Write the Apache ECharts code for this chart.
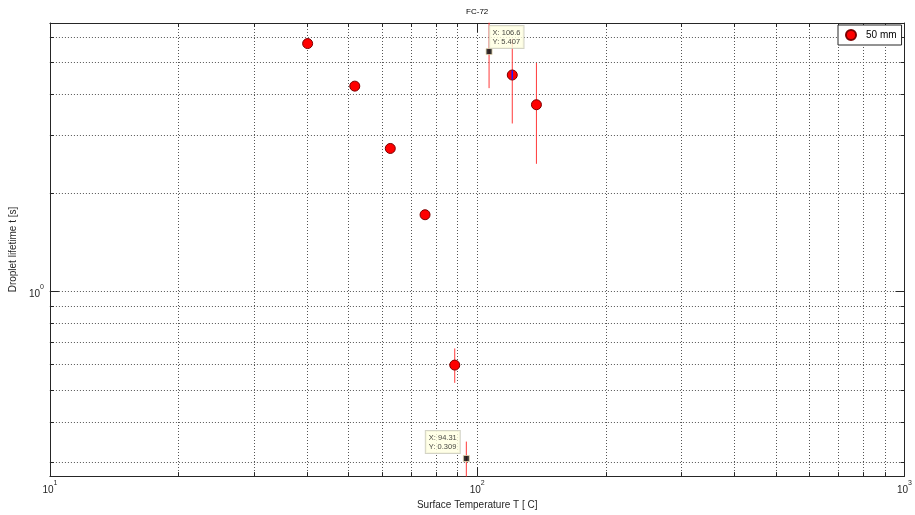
<!DOCTYPE html>
<html><head><meta charset="utf-8">
<script src="https://cdn.jsdelivr.net/npm/echarts@6/dist/echarts.min.js"></script>
<style>html,body{margin:0;padding:0;background:#fff}#c{width:915px;height:515px}</style>
</head><body><div id="c"></div>
<script>
// ---- data ----
const seriesName = '50 mm';
const titleText = 'FC-72';
const xName = 'Surface Temperature T [ C]';
const yName = 'Droplet lifetime t [s]';
const temps     = [40.1, 51.7, 62.6, 75.5, 88.6, 120.8, 137.6];
const lifetimes = [5.72, 4.24, 2.735, 1.716, 0.596, 4.585, 3.72];
const errTemps  = [88.6, 94.31, 106.6, 120.8, 137.6];
const errLow    = [0.526, 0.270, 4.18, 3.26, 2.455];
const errHigh   = [0.670, 0.348, 6.64, 5.91, 4.99];
const blueTemps = [120.8];
const blueLow   = [4.445];
const blueHigh  = [4.73];
const tipTemps     = [106.6, 94.31];
const tipLifetimes = [5.407, 0.309];
const xRange = [10, 1000];
const yRange = [0.273, 6.61];
const xMajorTicks = [10, 100, 1000];
const xAllTicks = [10,20,30,40,50,60,70,80,90,100,200,300,400,500,600,700,800,900,1000];
const yMajorTicks = [1];
const yAllTicks = [0.3,0.4,0.5,0.6,0.7,0.8,0.9,1,2,3,4,5,6];

// ---- styling ----
const tipLabelOffsets = [[4, -22], [-37, -24]];
const FONT = '"Liberation Sans", Arial, Helvetica, sans-serif';
const AXIS_COLOR = '#262626';
const TEXT_COLOR = '#262626';

function expLabel(v) {
  const e = Math.round(Math.log(v) / Math.LN10);
  return '{b|10}{s|' + e + '}';
}
const richSup = {
  b: {fontSize: 10, fontFamily: FONT, color: TEXT_COLOR, lineHeight: 16, verticalAlign: 'bottom'},
  s: {fontSize: 7, fontFamily: FONT, color: TEXT_COLOR, lineHeight: 8, verticalAlign: 'top'}
};
const gridLine = {show: true, lineStyle: {color: '#555', type: [1, 2], width: 1}};

function mkAxis(kind, position, range, ticks, tickLen, extra) {
  return Object.assign({
    type: 'log', logBase: 10, min: range[0], max: range[1], position: position,
    gridIndex: 0,
    axisLine: {show: true, onZero: false, lineStyle: {color: AXIS_COLOR, width: 1}},
    axisTick: {show: true, inside: true, length: tickLen, customValues: ticks,
               lineStyle: {color: AXIS_COLOR, width: 1}},
    axisLabel: {show: false},
    splitLine: {show: false},
    minorTick: {show: false}, minorSplitLine: {show: false}
  }, extra || {});
}

const xAxes = [
  mkAxis('x', 'bottom', xRange, xAllTicks, 4, {
    axisLabel: {show: true, customValues: xMajorTicks, formatter: expLabel, rich: richSup, margin: 3},
    splitLine: gridLine,
    name: xName, nameLocation: 'middle', nameGap: 20,
    nameTextStyle: {fontSize: 10, fontFamily: FONT, color: TEXT_COLOR}
  }),
  mkAxis('x', 'top', xRange, xAllTicks, 4, {
    name: titleText, nameLocation: 'middle', nameGap: 7,
    nameTextStyle: {fontSize: 8, fontFamily: FONT, color: '#000'}
  }),
  mkAxis('x', 'bottom', xRange, xMajorTicks, 9, {axisLine: {show: false}}),
  mkAxis('x', 'top', xRange, xMajorTicks, 9, {axisLine: {show: false}})
];
const yAxes = [
  mkAxis('y', 'left', yRange, yAllTicks, 4, {
    axisLabel: {show: true, customValues: yMajorTicks, formatter: expLabel, rich: richSup, margin: 6},
    splitLine: gridLine,
    name: yName, nameLocation: 'middle', nameGap: 26,
    nameTextStyle: {fontSize: 10, fontFamily: FONT, color: TEXT_COLOR}
  }),
  mkAxis('y', 'right', yRange, yAllTicks, 4),
  mkAxis('y', 'left', yRange, yMajorTicks, 9, {axisLine: {show: false}}),
  mkAxis('y', 'right', yRange, yMajorTicks, 9, {axisLine: {show: false}})
];

const series = [];
errTemps.forEach((t, i) => {
  series.push({
    type: 'line', name: 'err' + i, xAxisIndex: 0, yAxisIndex: 0,
    data: [[t, errLow[i]], [t, errHigh[i]]],
    symbol: 'none', silent: true, z: 2, clip: true,
    lineStyle: {color: '#ff3a3a', width: 1}
  });
});
series.push({
  type: 'scatter', name: seriesName, xAxisIndex: 0, yAxisIndex: 0,
  data: temps.map((t, i) => [t, lifetimes[i]]),
  symbol: 'circle', symbolSize: 10, z: 3,
  itemStyle: {color: '#ff0000', borderColor: '#7a0000', borderWidth: 1, opacity: 1}
});
blueTemps.forEach((t, i) => {
  series.push({
    type: 'line', name: 'blue' + i, xAxisIndex: 0, yAxisIndex: 0,
    data: [[t, blueLow[i]], [t, blueHigh[i]]],
    symbol: 'none', silent: true, z: 4,
    lineStyle: {color: '#1a1aff', width: 1.5}
  });
});
series.push({
  type: 'scatter', name: 'tips', xAxisIndex: 0, yAxisIndex: 0, z: 10,
  symbol: 'rect', symbolSize: 6,
  itemStyle: {color: '#000', borderColor: '#e8d8b0', borderWidth: 1},
  data: tipTemps.map((t, i) => ({
    value: [t, tipLifetimes[i]],
    label: {
      show: true, position: tipLabelOffsets[i],
      formatter: 'X: ' + t + '\nY: ' + tipLifetimes[i],
      fontSize: 7.5, fontFamily: FONT, color: '#111', lineHeight: 9.5,
      backgroundColor: '#ffffe1', borderColor: '#c8c8b8', borderWidth: 1,
      padding: [2, 3, 1, 3], align: 'left', verticalAlign: 'top'
    }
  }))
});

const option = {
  backgroundColor: '#fff',
  animation: false,
  grid: {left: 49, right: 7, top: 23, bottom: 36, containLabel: false},
  xAxis: xAxes,
  yAxis: yAxes,
  legend: {
    data: [seriesName], left: 838, top: 25, orient: 'horizontal',
    itemWidth: 20, itemHeight: 10, padding: [4, 5, 4, 7],
    borderColor: AXIS_COLOR, borderWidth: 1, backgroundColor: '#fff',
    textStyle: {fontSize: 10, fontFamily: FONT, color: '#000'}
  },
  series: series
};
const chart = echarts.init(document.getElementById('c'));
chart.setOption(option);
</script>
</body></html>
